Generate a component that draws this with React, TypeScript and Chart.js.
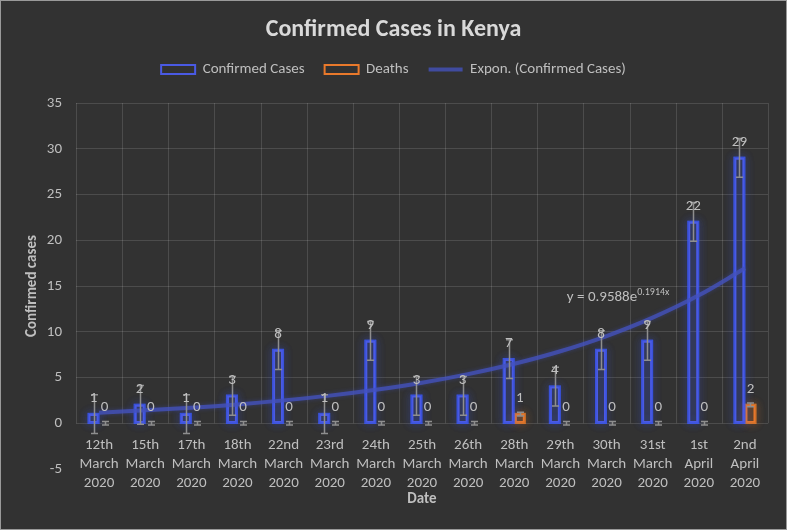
import React, { useEffect, useRef } from "react";
import { Chart, registerables } from "chart.js";

Chart.register(...registerables);

// ---- data ----
const categories: string[][] = [
  ["12th", "March", "2020"],
  ["15th", "March", "2020"],
  ["17th", "March", "2020"],
  ["18th", "March", "2020"],
  ["22nd", "March", "2020"],
  ["23rd", "March", "2020"],
  ["24th", "March", "2020"],
  ["25th", "March", "2020"],
  ["26th", "March", "2020"],
  ["28th", "March", "2020"],
  ["29th", "March", "2020"],
  ["30th", "March", "2020"],
  ["31st", "March", "2020"],
  ["1st", "April", "2020"],
  ["2nd", "April", "2020"],
];
const confirmedCases = [1, 2, 1, 3, 8, 1, 9, 3, 3, 7, 4, 8, 9, 22, 29];
const deaths = [0, 0, 0, 0, 0, 0, 0, 0, 0, 1, 0, 0, 0, 0, 2];
// exponential trendline values
const exponTrend = [1.16, 1.41, 1.7, 2.06, 2.5, 3.02, 3.66, 4.43, 5.37, 6.5, 7.87, 9.53, 11.54, 13.98, 16.93];
const confirmedError = 2.12;
const deathsError = 0.2;
const yMin = -5;
const yMax = 35;
const yStep = 5;
const gridTop = 35;
const gridBottom = 0;
const equationMain = "y = 0.9588e";
const equationExp = "0.1914x";
const equationAnchorX = 10.14; // category index
const equationAnchorY = 13.74; // value

const FONT = "Carlito, Calibri, Lato, sans-serif";
const BG = "#323232";
const GRID = "rgba(255,255,255,0.13)";
const TEXT = "#bfbfbf";
const BLUE = "#4a5ae4";
const ORANGE = "#e9792b";
const TREND = "rgba(68,82,190,0.78)";

const chartPlugin = {
  id: "chartPlugin",
  beforeDraw(chart: any) {
    const { ctx, width, height } = chart;
    ctx.save();
    ctx.fillStyle = BG;
    ctx.fillRect(0, 0, width, height);
    ctx.strokeStyle = "#9a9a9a";
    ctx.lineWidth = 1;
    ctx.strokeRect(0.5, 0.5, width - 1, height - 1);
    ctx.restore();
  },
  beforeDatasetsDraw(chart: any) {
    const { ctx } = chart;
    const x = chart.scales.x;
    const y = chart.scales.y;
    const top = y.getPixelForValue(gridTop);
    const bottom = y.getPixelForValue(gridBottom);
    ctx.save();
    ctx.strokeStyle = GRID;
    ctx.lineWidth = 1;
    for (let i = 0; i <= categories.length; i++) {
      const px = Math.round(x.getPixelForValue(i - 0.5)) + 0.5;
      ctx.beginPath();
      ctx.moveTo(px, top);
      ctx.lineTo(px, bottom);
      ctx.stroke();
    }
    ctx.restore();
  },
  beforeDatasetDraw(chart: any, args: any) {
    const ds = chart.data.datasets[args.index];
    const ctx = chart.ctx;
    ctx.save();
    if (ds.type === "bar") {
      const meta = chart.getDatasetMeta(args.index);
      ctx.save();
      ctx.shadowColor = ds.glowColor;
      ctx.shadowBlur = 9;
      ctx.strokeStyle = ds.glowColor;
      ctx.lineWidth = 2.5;
      for (let pass = 0; pass < 2; pass++) {
        meta.data.forEach((el: any) => {
          const h = el.base - el.y;
          if (Math.abs(h) < 0.5) return;
          ctx.strokeRect(el.x - el.width / 2, el.y, el.width, h);
        });
      }
      ctx.restore();
    } else {
      ctx.shadowColor = ds.glowColor || "transparent";
      ctx.shadowBlur = ds.glowBlur || 0;
    }
  },
  afterDatasetDraw(chart: any) {
    chart.ctx.restore();
  },
  afterDatasetsDraw(chart: any) {
    const { ctx } = chart;
    const y = chart.scales.y;
    const x = chart.scales.x;
    const sets: [number, number[], number][] = [
      [0, confirmedCases, confirmedError],
      [1, deaths, deathsError],
    ];
    ctx.save();
    // error bars
    ctx.strokeStyle = "#8e8e8e";
    ctx.lineWidth = 1.5;
    for (const [di, vals, err] of sets) {
      const meta = chart.getDatasetMeta(di);
      meta.data.forEach((el: any, i: number) => {
        const px = Math.round(el.x) + 0.5;
        const yt = y.getPixelForValue(vals[i] + err);
        const yb = y.getPixelForValue(vals[i] - err);
        ctx.beginPath();
        ctx.moveTo(px, yt);
        ctx.lineTo(px, yb);
        ctx.moveTo(px - 3.5, yt);
        ctx.lineTo(px + 3.5, yt);
        ctx.moveTo(px - 3.5, yb);
        ctx.lineTo(px + 3.5, yb);
        ctx.stroke();
      });
    }
    // data labels
    ctx.fillStyle = TEXT;
    ctx.font = `15px ${FONT}`;
    ctx.textAlign = "center";
    ctx.textBaseline = "middle";
    for (const [di, vals] of sets) {
      const meta = chart.getDatasetMeta(di);
      meta.data.forEach((el: any, i: number) => {
        ctx.fillText(String(vals[i]), el.x, y.getPixelForValue(vals[i]) - 16);
      });
    }
    // trendline equation
    const ex = x.getPixelForValue(equationAnchorX);
    const ey = y.getPixelForValue(equationAnchorY);
    ctx.textAlign = "left";
    ctx.font = `15px ${FONT}`;
    ctx.fillText(equationMain, ex, ey);
    const w = ctx.measureText(equationMain).width;
    ctx.font = `10px ${FONT}`;
    ctx.fillText(equationExp, ex + w, ey - 5);
    ctx.restore();
  },
};

export default function App() {
  const ref = useRef<HTMLCanvasElement | null>(null);
  useEffect(() => {
    document.body.style.margin = "0";
    const canvas = ref.current!;
    const chart = new Chart(canvas, {
      type: "bar",
      data: {
        labels: categories,
        datasets: [
          {
            type: "bar",
            label: "Confirmed Cases",
            data: confirmedCases,
            backgroundColor: "rgba(60,75,200,0.10)",
            borderColor: BLUE,
            borderWidth: 1.8,
            borderSkipped: false,
            categoryPercentage: 0.48,
            barPercentage: 0.86,
            order: 2,
            glowColor: "rgba(60,90,255,0.55)",
          } as any,
          {
            type: "bar",
            label: "Deaths",
            data: deaths,
            backgroundColor: "rgba(230,120,40,0.10)",
            borderColor: ORANGE,
            borderWidth: (c: any) => (c.raw === 0 ? 0 : 1.8),
            borderSkipped: false,
            categoryPercentage: 0.48,
            barPercentage: 0.86,
            order: 3,
            glowColor: "rgba(240,125,40,0.55)",
          } as any,
          {
            type: "line",
            label: "Expon. (Confirmed Cases)",
            data: exponTrend,
            borderColor: TREND,
            borderWidth: 4,
            pointRadius: 0,
            tension: 0.4,
            fill: false,
            order: 1,
            glowColor: "rgba(70,90,230,0.4)",
            glowBlur: 4,
          } as any,
        ],
      },
      options: {
        responsive: false,
        animation: false,
        layout: { padding: { left: 0, right: 0, top: 0, bottom: 61 } },
        plugins: {
          tooltip: { enabled: false },
          title: {
            display: true,
            text: "Confirmed Cases in Kenya",
            color: "#d9d9d9",
            font: { family: FONT, size: 24, weight: "bold", lineHeight: 1 },
            padding: { top: 18, bottom: 0 },
          },
          subtitle: {
            display: true,
            text: " ",
            weight: 500,
            font: { family: FONT, size: 1, lineHeight: 1 },
            padding: { top: 15, bottom: 0 },
          } as any,
          legend: {
            display: true,
            position: "top",
            labels: {
              color: TEXT,
              font: { family: FONT, size: 15 },
              usePointStyle: true,
              pointStyleWidth: 34,
              boxWidth: 34,
              boxHeight: 9,
              padding: 20,
              generateLabels: () => [
                { text: "Confirmed Cases", fillStyle: "rgba(0,0,0,0)", strokeStyle: BLUE, lineWidth: 2, pointStyle: "rect", hidden: false, datasetIndex: 0, fontColor: TEXT },
                { text: "Deaths", fillStyle: "rgba(0,0,0,0)", strokeStyle: ORANGE, lineWidth: 2, pointStyle: "rect", hidden: false, datasetIndex: 1, fontColor: TEXT },
                { text: "Expon. (Confirmed Cases)", fillStyle: TREND, strokeStyle: TREND, lineWidth: 4, pointStyle: "line", hidden: false, datasetIndex: 2, fontColor: TEXT },
              ] as any,
            },
          },
        },
        scales: {
          x: {
            type: "category",
            position: { y: 0 } as any,
            offset: true,
            grid: { display: false, drawTicks: false },
            border: { display: false },
            ticks: {
              color: TEXT,
              font: { family: FONT, size: 15, lineHeight: 1.27 },
              padding: 12,
              maxRotation: 0,
              autoSkip: false,
            },
            title: {
              display: true,
              text: "Date",
              color: TEXT,
              font: { family: FONT, size: 15, weight: "bold", lineHeight: 1.2 },
              padding: { top: -14, bottom: 0 },
            },
          },
          y: {
            type: "linear",
            position: "left",
            min: yMin,
            max: yMax,
            afterFit: (s: any) => {
              s.width = 76;
            },
            grid: {
              drawTicks: false,
              color: (c: any) => (c.tick && c.tick.value < gridBottom ? "rgba(0,0,0,0)" : GRID),
            },
            border: { display: false },
            ticks: {
              stepSize: yStep,
              color: TEXT,
              font: { family: FONT, size: 15 },
              padding: 14,
            },
            title: {
              display: true,
              text: "Confirmed cases",
              color: TEXT,
              font: { family: FONT, size: 15, weight: "bold", lineHeight: 1.2 },
              padding: { top: 23, bottom: 0 },
            },
          },
          yRight: {
            type: "linear",
            position: "right",
            display: true,
            grid: { display: false, drawTicks: false },
            border: { display: false },
            ticks: { display: false },
            afterFit: (s: any) => {
              s.width = 19;
            },
          },
        },
      },
      plugins: [chartPlugin],
    });
    return () => chart.destroy();
  }, []);
  return <canvas ref={ref} width={787} height={530} style={{ display: "block" }} />;
}
